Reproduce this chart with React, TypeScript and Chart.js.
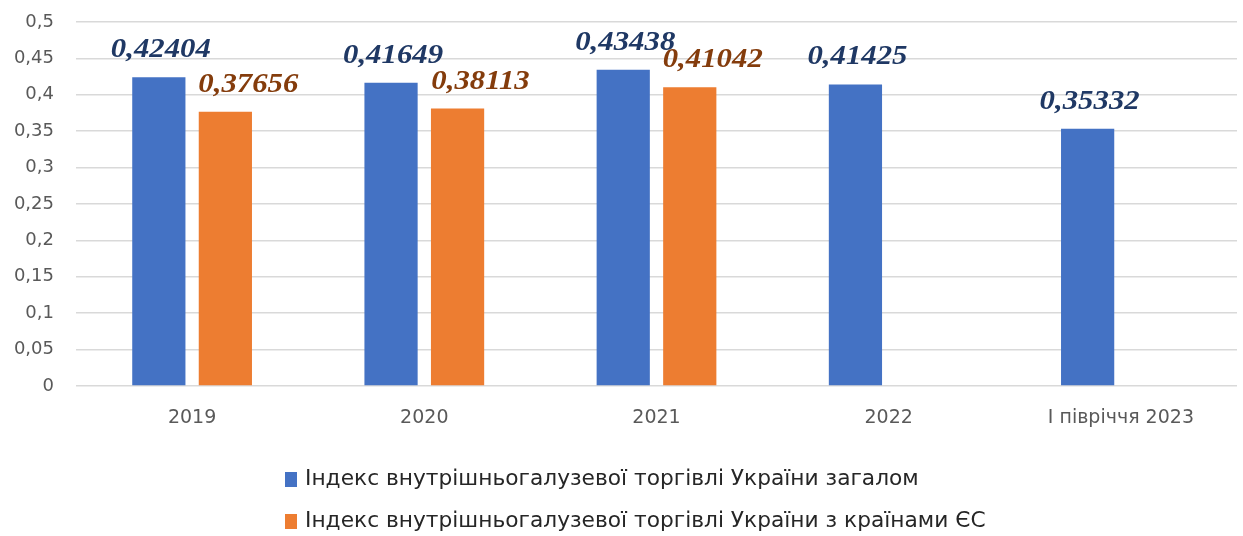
import React, { useEffect, useRef } from "react";
import { Chart, registerables } from "chart.js";

Chart.register(...registerables);

const categories = ["2019", "2020", "2021", "2022", "I півріччя 2023"];
const seriesTotal = [0.42404, 0.41649, 0.43438, 0.41425, 0.35332];
const seriesEU = [0.37656, 0.38113, 0.41042, null, null];
const seriesNames = [
  "Індекс внутрішньогалузевої торгівлі України загалом",
  "Індекс внутрішньогалузевої торгівлі України з країнами ЄС",
];
const yTicks = { min: 0, max: 0.5, step: 0.05 };

const barColors = ["#4472C4", "#ED7D31"];
const labelColors = ["#1F3864", "#843C0C"];
const labelOffsets = [2, 23];

const fmt = (v: number, digits: number) =>
  Number(v.toFixed(digits)).toString().replace(".", ",");

const labelsPlugin = {
  id: "valueLabels",
  afterDatasetsDraw(chart: any) {
    const ctx = chart.ctx;
    chart.data.datasets.forEach((ds: any, di: number) => {
      const meta = chart.getDatasetMeta(di);
      meta.data.forEach((el: any, i: number) => {
        const v = ds.data[i];
        if (v === null || v === undefined) return;
        const text = fmt(v, 5);
        ctx.save();
        ctx.font = "italic bold 28px 'Liberation Serif', 'Times New Roman', serif";
        ctx.fillStyle = labelColors[di];
        ctx.textAlign = "center";
        ctx.textBaseline = "alphabetic";
        ctx.translate(el.x + labelOffsets[di], el.y - 20);
        ctx.scale(1.1, 1);
        ctx.fillText(text, 0, 0);
        ctx.restore();
      });
    });
  },
};

const legendPlugin = {
  id: "customLegend",
  afterDraw(chart: any) {
    const ctx = chart.ctx;
    const rows = [480, 522];
    ctx.save();
    ctx.font = "20.5px 'DejaVu Sans', sans-serif";
    ctx.textBaseline = "middle";
    ctx.textAlign = "left";
    chart.data.datasets.forEach((ds: any, di: number) => {
      const cy = rows[di];
      ctx.fillStyle = ds.backgroundColor;
      ctx.fillRect(285, cy - 8, 12, 15);
      ctx.fillStyle = "#262626";
      ctx.save();
      ctx.translate(305, cy);
      ctx.scale(1.06, 1);
      ctx.fillText(ds.label, 0, 0);
      ctx.restore();
    });
    ctx.restore();
  },
};

export default function App() {
  const ref = useRef<HTMLCanvasElement>(null);
  useEffect(() => {
    document.body.style.margin = "0";
    if (!ref.current) return;
    const chart = new Chart(ref.current, {
      type: "bar",
      data: {
        labels: categories,
        datasets: [
          {
            label: seriesNames[0],
            data: seriesTotal,
            backgroundColor: barColors[0],
            categoryPercentage: 0.573,
            barPercentage: 0.8,
          },
          {
            label: seriesNames[1],
            data: seriesEU as any,
            backgroundColor: barColors[1],
            categoryPercentage: 0.573,
            barPercentage: 0.8,
          },
        ],
      },
      options: {
        responsive: false,
        animation: false,
        devicePixelRatio: 1,
        layout: { padding: { top: 22, right: 6, left: 0, bottom: 0 } },
        plugins: {
          legend: { display: false },
          tooltip: { enabled: false },
        },
        scales: {
          x: {
            grid: { display: false, drawTicks: false },
            border: { display: false },
            ticks: {
              color: "#595959",
              font: { family: "'DejaVu Sans', sans-serif", size: 19 },
              padding: 21,
              maxRotation: 0,
            },
            afterFit(scale: any) {
              scale.height = 150;
            },
          },
          y: {
            min: yTicks.min,
            max: yTicks.max,
            grid: { color: "#D9D9D9", lineWidth: 1.5, drawTicks: false },
            border: { display: false },
            ticks: {
              stepSize: yTicks.step,
              color: "#595959",
              font: { family: "'DejaVu Sans', sans-serif", size: 18 },
              padding: 22,
              callback: (v: any) => fmt(Number(v), 2),
            },
            afterFit(scale: any) {
              scale.width = 76;
              scale.paddingTop = 0;
              scale.paddingBottom = 0;
            },
          },
        },
      },
      plugins: [labelsPlugin, legendPlugin],
    });
    return () => chart.destroy();
  }, []);
  return (
    <div style={{ width: 1243, height: 536, background: "#fff" }}>
      <canvas ref={ref} width={1243} height={536} />
    </div>
  );
}
